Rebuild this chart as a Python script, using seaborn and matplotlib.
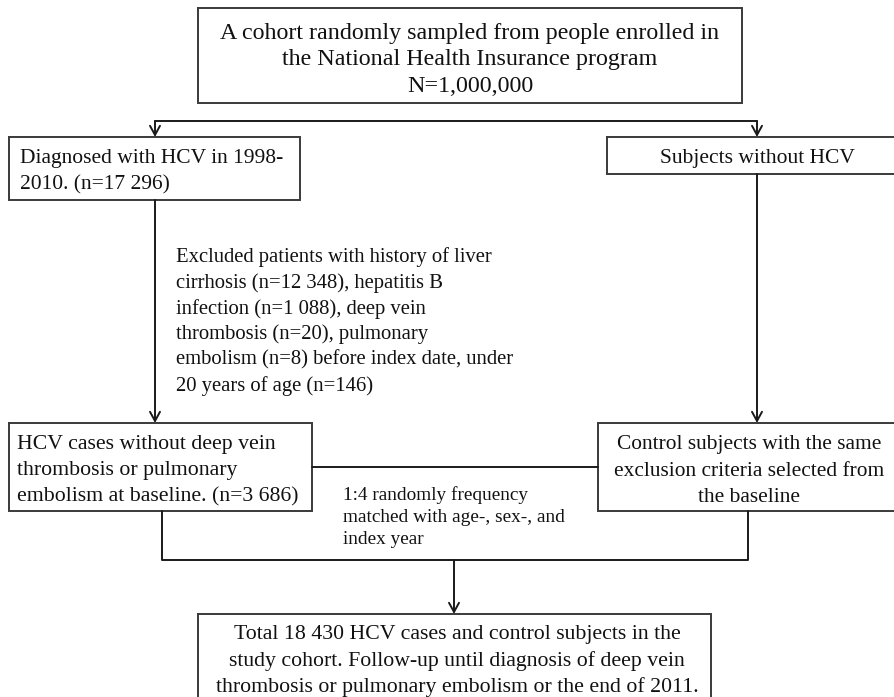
import matplotlib
matplotlib.use("Agg")
import matplotlib.pyplot as plt
import seaborn as sns

sns.set_theme(style="white")
plt.rcParams['font.family'] = ['Liberation Serif', 'DejaVu Serif']

# ---- text content ----
top_lines = ["A cohort randomly sampled from people enrolled in",
             "the National Health Insurance program",
             "N=1,000,000"]
hcv_lines = ["Diagnosed with HCV in 1998-", "2010. (n=17 296)"]
nohcv_lines = ["Subjects without HCV"]
excl_lines = ["Excluded patients with history of liver",
              "cirrhosis (n=12 348), hepatitis B",
              "infection (n=1 088), deep vein",
              "thrombosis (n=20), pulmonary",
              "embolism (n=8) before index date, under",
              "20 years of age (n=146)"]
cases_lines = ["HCV cases without deep vein",
               "thrombosis or pulmonary",
               "embolism at baseline. (n=3 686)"]
ctrl_lines = ["Control subjects with the same",
              "exclusion criteria selected from",
              "the baseline"]
match_lines = ["1:4 randomly frequency",
               "matched with age-, sex-, and",
               "index year"]
final_lines = ["Total 18 430 HCV cases and control subjects in the",
               "study cohort. Follow-up until diagnosis of deep vein",
               "thrombosis or pulmonary embolism or the end of 2011."]

W, H = 894, 697
fig = plt.figure(figsize=(W / 100, H / 100), dpi=100)
ax = fig.add_axes([0, 0, 1, 1])
ax.set_xlim(0, W)
ax.set_ylim(H, 0)
ax.axis("off")

LC = "#1a1a1a"
LW = 1.4
DY = 2


def box(x0, y0, x1, y1):
    ax.plot([x0, x1, x1, x0, x0], [y0, y0, y1, y1, y0], color="#3a3a3a", lw=LW,
            solid_joinstyle="miter")


def line(xs, ys):
    ax.plot(xs, ys, color=LC, lw=LW)


def arrow(x, y0, y1):
    ax.annotate("", xy=(x, y1), xytext=(x, y0),
                arrowprops=dict(arrowstyle="->,head_length=0.55,head_width=0.3",
                                color=LC, lw=LW, shrinkA=0, shrinkB=0))


def lines_text(lines, x, ys, fs, ha="left"):
    for t, y in zip(lines, ys):
        ax.text(x, y + DY, t, ha=ha, va="center", fontsize=fs, color="#111111")


# boxes
box(198, 8, 742, 103)
box(9, 137, 300, 200)
box(607, 137, 896, 174)
box(9, 423, 312, 511)
box(598, 423, 896, 511)
box(198, 614, 711, 702)

# connectors
line([155, 757], [121, 121])
arrow(155, 121, 137)
arrow(757, 121, 137)
arrow(155, 200, 423)
arrow(757, 174, 423)
line([312, 598], [467, 467])
line([162, 162, 748, 748], [511, 560, 560, 511])
arrow(454, 560, 614)

# texts
lines_text(top_lines, 470, [31, 57, 84], 17.3, ha="center")
lines_text(hcv_lines, 20, [157, 183], 15.5)
lines_text(nohcv_lines, 757, [156], 15.5, ha="center")
lines_text(excl_lines, 176, [255, 281, 307, 332, 358, 384], 14.9)
lines_text(cases_lines, 17, [443, 469, 495], 15.7)
lines_text(ctrl_lines, 749, [443, 469, 495], 15.4, ha="center")
lines_text(match_lines, 343, [493, 515, 537], 13.9)
lines_text(final_lines, 457, [633, 659, 685], 15.7, ha="center")

fig.savefig("out.png", dpi=100, facecolor="white")
